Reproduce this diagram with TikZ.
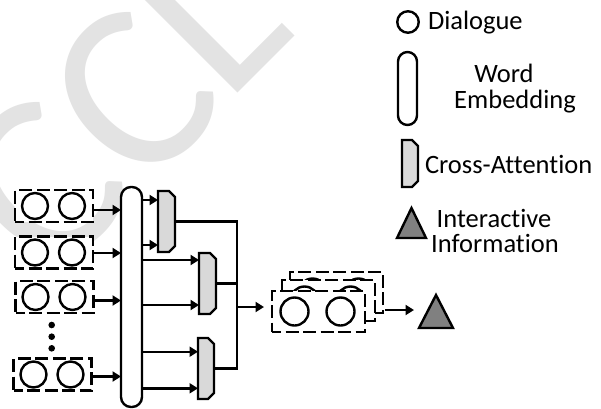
\documentclass[tikz,border=0pt]{standalone}
\usepackage{fontspec}
\setmainfont{Carlito}[Ligatures=NoCommon]
\usetikzlibrary{arrows.meta}

% a dashed dialogue box holding two utterance circles
\newcommand\dlgrow[3]{%
  \node[dlg] (#1) at (#2,#3) {};
  \node[word] (#1a) at ([xshift=-19pt]#1.center) {};
  \node[word] (#1b) at ([xshift=18pt]#1.center) {};
}
% cross-attention block: rectangle with its right-hand corners cut off
\newcommand\xattblock[5]{% name, x, y, width, height
  \node[minimum width=#4pt, minimum height=#5pt] (#1) at (#2,#3) {};
  \draw[xfill] (#1.north west) -- ([xshift=-6pt]#1.north east)
    -- ([yshift=-6pt]#1.north east) -- ([yshift=6pt]#1.south east)
    -- ([xshift=-6pt]#1.south east) -- (#1.south west) -- cycle;
}
% interactive-information triangle
\newcommand\infotri[5]{% name, x, y, width, height
  \node[minimum width=#4pt, minimum height=#5pt] (#1) at (#2,#3) {};
  \draw[tfill] (#1.south west) -- (#1.north) -- (#1.south east) -- cycle;
}

\begin{document}
\begin{tikzpicture}[x=1pt, y=-1pt, line width=2.4pt,
  every node/.style={inner sep=0pt, outer sep=0pt},
  arr/.style={-{Triangle[length=8.5pt,width=10pt]}},
  dashy/.style={dash pattern=on 13pt off 4.5pt, dash phase=4pt},
  dlg/.style={draw, dashy, fill=white,
              minimum width=78pt, minimum height=32pt},
  word/.style={draw, circle, fill=white, minimum size=26pt},
  bigword/.style={draw, circle, fill=white, minimum size=28pt},
  stackbox/.style={draw, dashy, fill=white,
              minimum width=93pt, minimum height=41pt},
  emb/.style={draw, rounded corners=10pt, fill=white, minimum width=21pt},
  xfill/.style={fill=black!15},
  tfill/.style={fill=black!50},
  lbl/.style={font=\fontsize{26.5}{30}\selectfont, anchor=base west},
  wm/.style={text=black!11, font=\fontsize{240}{240}\selectfont, rotate=45},
]
\useasboundingbox (0,0) rectangle (601,408);
\fill[white] (0,0) rectangle (601,408);

% background watermark
\node[wm] (wmc1) at (41,185) {C};
\node[wm] (wmc2) at (132,95) {C};
\node[wm, anchor=base west] (wml) at (226,104) {L};

% dialogue inputs
\dlgrow{r1}{54}{206}
\dlgrow{r2}{54}{252.5}
\dlgrow{r3}{54.5}{297}
\dlgrow{r4}{52.5}{374.5}
\fill (51.7,325) circle (3.3pt) (51.7,336.7) circle (3.3pt) (51.7,348.3) circle (3.3pt);

% word embedding
\node[emb, minimum height=220pt] (emb) at (131.5,297) {};
\draw[arr] (r1.east |- 0,210) -- (emb.west |- 0,210);
\draw[arr] (r2.east |- 0,253) -- (emb.west |- 0,253);
\draw[arr] (r3.east |- 0,300.5) -- (emb.west |- 0,300.5);
\draw[arr] (r4.east |- 0,376.5) -- (emb.west |- 0,376.5);

% cross-attention blocks
\xattblock{x1}{166.5}{221.5}{17}{61}
\xattblock{x2}{207.5}{283.5}{17}{61}
\xattblock{x3}{206}{368.5}{16}{61}
\draw[arr] (emb.east |- 0,200) -- (x1.west |- 0,200);
\draw[arr] (emb.east |- 0,245) -- (x1.west |- 0,245);
\draw[arr] (emb.east |- 0,260) -- (x2.west |- 0,260);
\draw[arr] (emb.east |- 0,305) -- (x2.west |- 0,305);
\draw[arr] (emb.east |- 0,351.7) -- (x3.west |- 0,351.7);
\draw[arr] (emb.east |- 0,388.3) -- (x3.west |- 0,388.3);

% merged dialogue stack
\node[stackbox] (s1) at (336.5,292.5) {};
\node[bigword] (s1a) at ([xshift=-24pt]s1.center) {};
\node[bigword] (s1b) at ([xshift=22pt]s1.center) {};
\node[stackbox] (s2) at (328.5,300.5) {};
\node[bigword] (s2a) at ([xshift=-24pt]s2.center) {};
\node[bigword] (s2b) at ([xshift=22pt]s2.center) {};
\node[stackbox] (s3) at (318.5,311.5) {};
\node[bigword] (s3a) at ([xshift=-24pt]s3.center) {};
\node[bigword] (s3b) at ([xshift=22pt]s3.center) {};

% merging the attention outputs
\coordinate (jn) at (237,307);
\draw (x1.east) -| (jn) |- (x3.east);
\draw (x2.east) -- (x2.east -| jn);
\draw[arr, shorten >=8pt] (jn) -- (jn -| s3.west);

% interactive information
\infotri{tri}{436}{311.5}{34}{33}
\draw[arr, shorten <=2pt, shorten >=5pt] (s1.east |- 0,310) -- (tri.west |- 0,310);

% legend
\node[word, minimum size=21.5pt] (lgdlg) at (408,22) {};
\node[lbl] (tdlg) at (428,29) {Dialogue};
\node[emb, minimum width=19pt, minimum height=73pt, rounded corners=9.5pt] (lgemb) at (407.5,88.5) {};
\node[lbl, anchor=base] (tword) at (504,82) {Word};
\node[lbl, anchor=base] (temb) at (515,108) {Embedding};
\xattblock{lgx}{410}{163.5}{16}{47}
\node[lbl] (txatt) at (425,173) {Cross-Attention};
\infotri{lgtri}{411.5}{223}{29}{30}
\node[lbl, anchor=base] (tint) at (494,227) {Interactive};
\node[lbl, anchor=base] (tinf) at (495,252) {Information};
\end{tikzpicture}
\end{document}
